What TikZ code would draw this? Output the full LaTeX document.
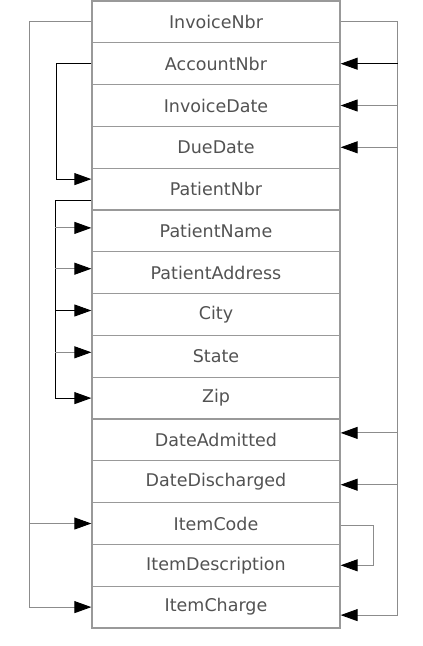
\documentclass[tikz,border=0pt]{standalone}
\usepackage{fontspec}
\setmainfont{DejaVu Sans}
\usetikzlibrary{arrows.meta}

\begin{document}
\begin{tikzpicture}[
    x=1pt, y=-1pt,
    field/.style={draw=black!40,line width=1.3pt,minimum width=248pt,minimum height=41.8pt,
      inner sep=0pt,text=black!68,font=\fontsize{17.5}{19}\selectfont},
    flow/.style={draw=black!45,line width=0.9pt,-{Triangle[length=17pt,width=12pt]},arrows={[black]}},
    dflow/.style={flow,draw=black},
    link/.style={draw=black!45,line width=0.9pt}]
  \useasboundingbox (0,0) rectangle (423,646);
  \node[field] (invnbr) at (216,21.9) {InvoiceNbr};
  \node[field] (acctnbr) at (216,63.7) {AccountNbr};
  \node[field] (invdate) at (216,105.5) {InvoiceDate};
  \node[field] (duedate) at (216,147.3) {DueDate};
  \node[field] (patnbr) at (216,189.1) {PatientNbr};
  \node[field] (patname) at (216,230.9) {PatientName};
  \node[field] (pataddr) at (216,272.7) {PatientAddress};
  \node[field] (city) at (216,314.5) {City};
  \node[field] (state) at (216,356.3) {State};
  \node[field] (zip) at (216,398.1) {Zip};
  \node[field] (dateadm) at (216,439.9) {DateAdmitted};
  \node[field] (datedis) at (216,481.7) {DateDischarged};
  \node[field] (itemcode) at (216,523.5) {ItemCode};
  \node[field] (itemdesc) at (216,565.3) {ItemDescription};
  \node[field] (itemchg) at (216,607.1) {ItemCharge};
  % left side: invoice number to the item fields
  \draw[flow] (invnbr.west) -| ([xshift=-62pt]itemchg.west) -- (itemchg.west);
  \draw[flow] ([xshift=-62pt]itemcode.west) -- (itemcode.west);
  % account number to patient number
  \draw[dflow] (acctnbr.west) -- ++(-35,0) |- ([yshift=10pt]patnbr.west);
  % patient number to patient details
  \draw[dflow] ([yshift=-11pt]patnbr.west) -- ++(-36,0) |- (zip.west);
  \draw[flow] ([xshift=-36pt,yshift=3pt]patname.west) -- ([yshift=3pt]patname.west);
  \draw[flow] ([xshift=-36pt,yshift=4pt]pataddr.west) -- ([yshift=4pt]pataddr.west);
  \draw[dflow] ([xshift=-36pt,yshift=4pt]city.west) -- ([yshift=4pt]city.west);
  \draw[flow] ([xshift=-36pt,yshift=4pt]state.west) -- ([yshift=4pt]state.west);
  % right side: invoice number to invoice fields
  \draw[link] (invnbr.east) -- ++(57,0) coordinate (rtop);
  \draw[flow] (rtop) |- ([yshift=-8pt]itemchg.east);
  \draw[dflow] (rtop |- acctnbr.east) -- (acctnbr.east);
  \draw[flow] (rtop |- invdate.east) -- (invdate.east);
  \draw[flow] (rtop |- duedate.east) -- (duedate.east);
  \draw[flow] ([yshift=7pt]rtop |- dateadm.east) -- ([yshift=7pt]dateadm.east);
  \draw[flow] ([yshift=-3pt]rtop |- datedis.east) -- ([yshift=-3pt]datedis.east);
  % item code to item description
  \draw[flow] ([yshift=-2pt]itemcode.east) -- ++(33,0) |- (itemdesc.east);
\end{tikzpicture}
\end{document}
